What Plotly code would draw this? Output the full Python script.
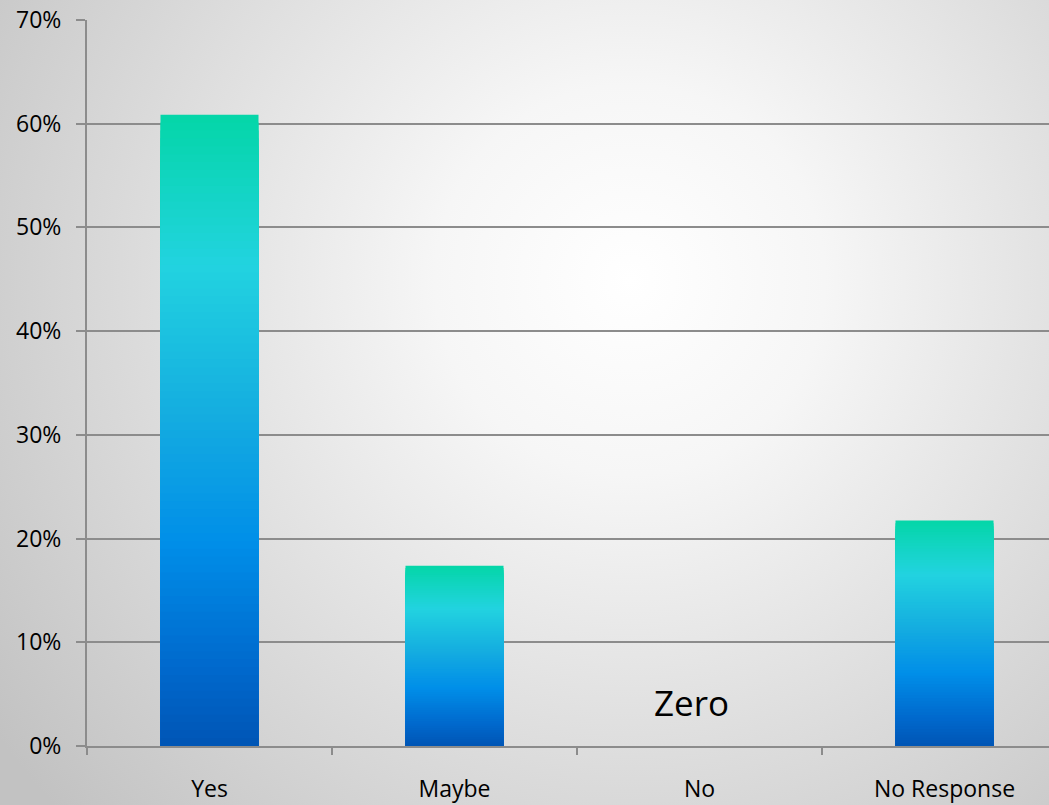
import base64
import plotly.graph_objects as go

categories = ["Yes", "Maybe", "No", "No Response"]
values = [0.6087, 0.1739, 0.0, 0.2174]
y_ticks = [0, 0.1, 0.2, 0.3, 0.4, 0.5, 0.6, 0.7]
annotation_text = "Zero"

# gradient stops (fraction of bar height from bottom, colour)
stops = [(0.0, (0x00, 0x55, 0xB5)), (0.12, (0x00, 0x68, 0xCC)), (0.32, (0x00, 0x8E, 0xE8)),
         (0.52, (0x14, 0xAC, 0xE0)), (0.76, (0x22, 0xD3, 0xE0)), (1.0, (0x04, 0xD6, 0xA8))]


def grad(t):
    for (a, ca), (b, cb) in zip(stops[:-1], stops[1:]):
        if a <= t <= b:
            u = (t - a) / (b - a)
            c = [round(ca[i] + (cb[i] - ca[i]) * u) for i in range(3)]
            return f"rgb({c[0]},{c[1]},{c[2]})"
    c = stops[-1][1]
    return f"rgb({c[0]},{c[1]},{c[2]})"


W, H = 1049, 805
L, T, B = 87, 20, 59
pw, ph = W - L, H - T - B
cat_px = 245.0

fig = go.Figure()
N = 80
for k in range(N):
    f = 1 - k / N
    fig.add_trace(go.Bar(
        x=categories, y=[v * f for v in values], width=0.4,
        marker=dict(color=grad(max(f - 0.5 / N, 0)), line=dict(width=0)),
        hoverinfo="skip", showlegend=False))

svg = f'''<svg xmlns="http://www.w3.org/2000/svg" width="{W}" height="{H}" viewBox="0 0 {W} {H}" preserveAspectRatio="none">
<defs><radialGradient id="g" cx="630" cy="280" r="780" gradientUnits="userSpaceOnUse">
<stop offset="0" stop-color="#ffffff"/><stop offset="0.25" stop-color="#f6f6f6"/><stop offset="1" stop-color="#c2c2c2"/></radialGradient></defs>
<rect width="{W}" height="{H}" fill="url(#g)"/></svg>'''
src = "data:image/svg+xml;base64," + base64.b64encode(svg.encode()).decode()

fig.add_layout_image(dict(source=src, xref="paper", yref="paper",
                          x=-L / pw, y=1 + T / ph, sizex=W / pw, sizey=H / ph,
                          xanchor="left", yanchor="top", sizing="stretch", layer="below"))

fig.add_annotation(x="No", y=0.042, text=annotation_text, showarrow=False, xshift=-8,
                   font=dict(family="Open Sans", size=35, color="#000000"))

grid = "#8c8c8c"
fig.update_layout(
    width=W, height=H, margin=dict(l=L, r=0, t=T, b=B, pad=0),
    barmode="overlay", paper_bgcolor="rgba(0,0,0,0)", plot_bgcolor="rgba(0,0,0,0)",
    font=dict(family="Open Sans", size=23, color="#000000"),
    xaxis=dict(type="category", range=[-0.5, -0.5 + pw / cat_px], tickson="boundaries",
               ticks="outside", ticklen=7, tickcolor=grid, tickwidth=2,
               showline=True, linecolor=grid, linewidth=2, showgrid=False,
               ticklabelstandoff=21, fixedrange=True),
    yaxis=dict(range=[0, 0.7], tickvals=y_ticks, tickformat=".0%", ticks="outside",
               ticklen=9, tickcolor=grid, tickwidth=2, showline=True, linecolor=grid,
               linewidth=2, showgrid=True, gridcolor=grid, gridwidth=2,
               zeroline=False, ticklabelstandoff=10, fixedrange=True),
)

fig.write_html("out.html", config={"displayModeBar": False, "staticPlot": True},
               post_script="document.body.style.margin='0';document.body.style.overflow='hidden';")
